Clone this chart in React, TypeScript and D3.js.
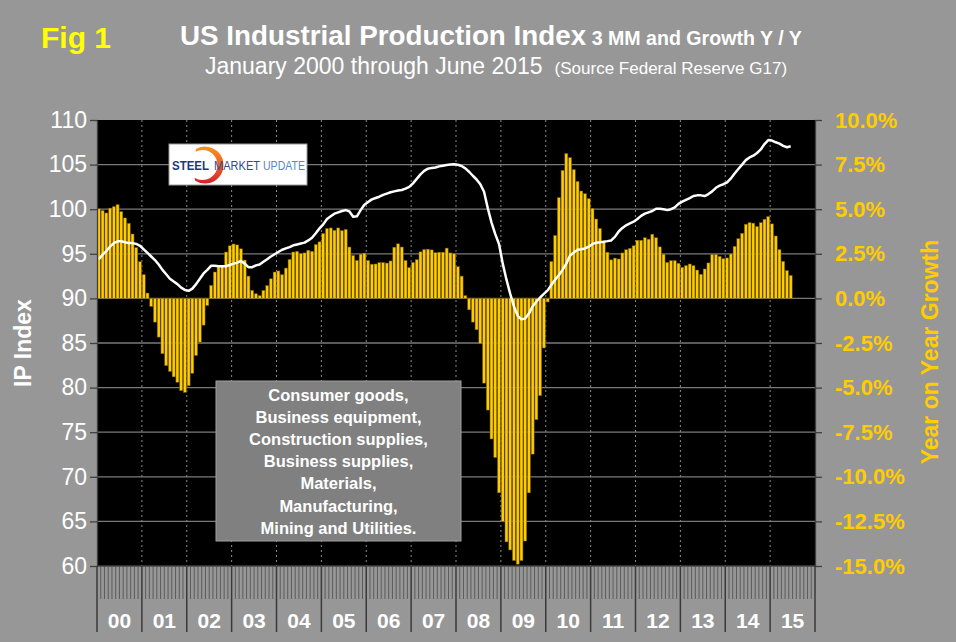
"use client"

import * as React from "react"
import * as d3 from "d3"

const yearLabels = ["00", "01", "02", "03", "04", "05", "06", "07", "08", "09", "10", "11", "12", "13", "14", "15"]

const ipTicks = [60, 65, 70, 75, 80, 85, 90, 95, 100, 105, 110]
const growthTicks = [-15, -12.5, -10, -7.5, -5, -2.5, 0, 2.5, 5, 7.5, 10]

const legendLines = [
  "Consumer goods,",
  "Business equipment,",
  "Construction supplies,",
  "Business supplies,",
  "Materials,",
  "Manufacturing,",
  "Mining and Utilities.",
]

// growth Y/Y (3 MM), percent, Jan 2000 .. Jun 2015, one row per year
const yoyGrowth = [
  5.02, 4.93, 4.79, 5.06, 5.15, 5.26, 4.87, 4.51, 4.21, 3.61, 2.85, 2.06,
  1.33, 0.3, -0.45, -1.33, -2.17, -3.1, -3.77, -4.1, -4.4, -4.7, -5.17, -5.27,
  -4.9, -4.2, -3.2, -2.45, -1.5, -0.4, 0.73, 1.48, 1.76, 1.8, 2.6, 2.95,
  3.05, 3.0, 2.78, 2.15, 1.25, 0.45, 0.26, 0.16, 0.45, 0.72, 1.1, 1.48,
  1.54, 1.33, 1.7, 2.19, 2.6, 2.64, 2.51, 2.55, 2.7, 2.64, 3.02, 3.17,
  3.64, 3.92, 3.95, 3.82, 3.95, 3.8, 3.87, 2.88, 2.41, 2.13, 2.48, 2.54,
  2.13, 1.92, 1.93, 2.01, 2.01, 1.98, 2.1, 2.87, 3.06, 2.88, 2.13, 1.73,
  2.02, 2.17, 2.61, 2.74, 2.76, 2.72, 2.56, 2.59, 2.59, 2.82, 2.55, 2.5,
  1.78, 1.25, 0.16, -0.64, -1.33, -1.76, -2.53, -4.75, -6.26, -7.88, -8.92, -10.9,
  -12.5, -13.65, -14.1, -14.7, -14.9, -14.7, -13.6, -10.9, -8.73, -6.8, -5.45, -2.78,
  -0.2, 2.07, 3.53, 5.65, 7.18, 8.12, 7.89, 7.22, 6.56, 6.02, 5.87, 5.59,
  5.05, 4.45, 3.92, 3.14, 2.59, 2.16, 2.26, 2.21, 2.55, 2.73, 2.81, 2.95,
  3.26, 3.26, 3.4, 3.32, 3.6, 3.4, 2.89, 2.48, 2.02, 2.12, 2.12, 1.97,
  1.74, 1.84, 1.93, 1.84, 1.59, 1.35, 1.65, 1.99, 2.47, 2.47, 2.36, 2.23,
  2.27, 2.49, 2.92, 3.35, 3.65, 4.16, 4.25, 4.22, 4.03, 4.25, 4.44, 4.59,
  4.18, 3.5, 2.74, 2.08, 1.56, 1.29,
]

// IP index (3 MM), same months
const ipIndex = [
  94.4, 94.9, 95.3, 95.8, 96.2, 96.4, 96.4, 96.3, 96.2, 96.2, 96.1, 95.9,
  95.5, 95.1, 94.7, 94.3, 93.8, 93.2, 92.7, 92.2, 91.9, 91.6, 91.2, 90.95,
  90.85, 91.1, 91.6, 92.2, 92.8, 93.2, 93.65, 93.65, 93.6, 93.6, 93.6, 93.75,
  93.9, 94.0, 94.2, 93.9, 93.5, 93.5, 93.7, 93.8, 94.1, 94.4, 94.7, 94.95,
  95.2, 95.45, 95.6, 95.75, 95.95, 96.05, 96.15, 96.25, 96.5, 96.8, 97.3, 97.85,
  98.3, 98.9, 99.2, 99.5, 99.65, 99.8, 99.9, 99.75, 99.15, 99.2, 99.9, 100.5,
  100.8, 101.1, 101.25, 101.4, 101.6, 101.75, 101.9, 102.0, 102.1, 102.15, 102.3, 102.5,
  102.9, 103.4, 103.9, 104.3, 104.55, 104.62, 104.68, 104.8, 104.88, 104.95, 105.0, 105.05,
  104.98, 104.85, 104.58, 104.2, 103.75, 103.33, 102.79, 101.95, 100.1, 98.5, 97.2, 96.1,
  93.9, 92.1, 90.5, 89.1, 88.05, 87.65, 87.75, 88.3, 89.1, 89.65, 90.1, 90.5,
  90.9, 91.5, 92.1, 92.6, 93.2, 93.9, 94.8, 95.15, 95.45, 95.5, 95.6, 95.8,
  96.1, 96.25, 96.3, 96.36, 96.42, 96.5, 96.9, 97.5, 97.9, 98.2, 98.4, 98.6,
  98.9, 99.25, 99.5, 99.65, 99.8, 100.05, 100.05, 100.0, 99.9, 100.0, 100.2, 100.6,
  100.85, 101.05, 101.25, 101.48, 101.55, 101.55, 101.47, 101.7, 102.0, 102.4, 102.65, 102.8,
  103.0, 103.45, 104.0, 104.5, 105.0, 105.5, 105.8, 106.0, 106.3, 106.7, 107.3, 107.75,
  107.7, 107.5, 107.35, 107.1, 106.95, 107.05,
]

const FONT = '"Liberation Sans", Arial, Helvetica, sans-serif'
const GOLD = "#FFCC00"

function render(svgEl: SVGSVGElement) {
  const width = 956
  const height = 642
  const plot = { left: 97, right: 815, top: 120, bottom: 566 }

  const svg = d3.select(svgEl).attr("width", width).attr("height", height)
  svg.selectAll("*").remove()

  const nMonths = yearLabels.length * 12
  const months = d3.range(nMonths)
  const xb = d3
    .scaleBand<number>()
    .domain(months)
    .range([plot.left, plot.right])
    .paddingInner(0.2)
    .paddingOuter(0.1)
  const xm = d3.scaleLinear().domain([0, nMonths]).range([plot.left, plot.right])
  const yIP = d3.scaleLinear().domain([60, 110]).range([plot.bottom, plot.top])
  const yG = d3.scaleLinear().domain([-15, 10]).range([plot.bottom, plot.top])

  // background + plot area
  svg.append("rect").attr("width", width).attr("height", height).attr("fill", "#979797")
  svg
    .append("rect")
    .attr("x", plot.left)
    .attr("y", plot.top)
    .attr("width", plot.right - plot.left)
    .attr("height", plot.bottom - plot.top)
    .attr("fill", "#000")

  // horizontal grid
  svg
    .append("g")
    .selectAll("line")
    .data(ipTicks.filter((t) => t > 60 && t < 110))
    .join("line")
    .attr("x1", plot.left)
    .attr("x2", plot.right)
    .attr("y1", (d) => yIP(d))
    .attr("y2", (d) => yIP(d))
    .attr("stroke", "#7a7a7a")
    .attr("stroke-width", 1.3)

  // year dashed lines
  svg
    .append("g")
    .selectAll("line")
    .data(d3.range(1, yearLabels.length))
    .join("line")
    .attr("x1", (d) => xm(d * 12))
    .attr("x2", (d) => xm(d * 12))
    .attr("y1", plot.top)
    .attr("y2", plot.bottom)
    .attr("stroke", "#8a8a8a")
    .attr("stroke-width", 1)
    .attr("stroke-dasharray", "2,3")

  // growth bars
  svg
    .append("g")
    .selectAll("rect")
    .data(yoyGrowth)
    .join("rect")
    .attr("x", (d, i) => xb(i) as number)
    .attr("width", xb.bandwidth())
    .attr("y", (d) => yG(Math.max(0, d)))
    .attr("height", (d) => Math.max(0.8, Math.abs(yG(d) - yG(0))))
    .attr("fill", GOLD)
    .attr("stroke", "#6b5400")
    .attr("stroke-width", 0.5)

  // IP index line
  const line = d3
    .line<number>()
    .x((d, i) => (xb(i) as number) + xb.bandwidth() / 2)
    .y((d) => yIP(d))
  svg
    .append("path")
    .datum(ipIndex)
    .attr("d", line)
    .attr("fill", "none")
    .attr("stroke", "#fff")
    .attr("stroke-width", 2.5)
    .attr("stroke-linejoin", "round")

  // left axis
  const gl = svg
    .append("g")
    .attr("transform", `translate(${plot.left},0)`)
    .call(d3.axisLeft(yIP).tickValues(ipTicks).tickSize(7).tickPadding(3).tickSizeOuter(0).tickFormat(d3.format("d")))
  gl.select(".domain").attr("stroke", "#404040").attr("stroke-width", 1.3)
  gl.selectAll(".tick line").attr("stroke", "#404040").attr("stroke-width", 1.3)
  gl.selectAll(".tick text")
    .attr("fill", "#fff")
    .attr("font-family", FONT)
    .attr("font-size", 23)

  // right axis
  const gr = svg
    .append("g")
    .attr("transform", `translate(${plot.right},0)`)
    .call(
      d3
        .axisRight(yG)
        .tickValues(growthTicks)
        .tickSize(7)
        .tickPadding(13)
        .tickSizeOuter(0)
        .tickFormat((d) => (d as number).toFixed(1) + "%")
    )
  gr.select(".domain").attr("stroke", "#404040").attr("stroke-width", 1.3)
  gr.selectAll(".tick line").attr("stroke", "#404040").attr("stroke-width", 1.3)
  gr.selectAll(".tick text")
    .attr("fill", GOLD)
    .attr("font-family", FONT)
    .attr("font-weight", "bold")
    .attr("font-size", 22)

  // bottom category axis: month ticks + year dividers
  svg
    .append("line")
    .attr("x1", plot.left)
    .attr("x2", plot.right)
    .attr("y1", plot.bottom)
    .attr("y2", plot.bottom)
    .attr("stroke", "#404040")
    .attr("stroke-width", 1.3)
  svg
    .append("g")
    .selectAll("line")
    .data(d3.range(nMonths + 1))
    .join("line")
    .attr("x1", (d) => xm(d))
    .attr("x2", (d) => xm(d))
    .attr("y1", plot.bottom)
    .attr("y2", (d) => (d % 12 === 0 ? 632 : 599))
    .attr("stroke", (d) => (d % 12 === 0 ? "#3a3a3a" : "#555"))
    .attr("stroke-width", (d) => (d % 12 === 0 ? 1.5 : 0.9))
  svg
    .append("g")
    .selectAll("text")
    .data(yearLabels)
    .join("text")
    .attr("x", (d, i) => xm(i * 12 + 6))
    .attr("y", 628)
    .attr("text-anchor", "middle")
    .attr("fill", "#fff")
    .attr("font-family", FONT)
    .attr("font-weight", "bold")
    .attr("font-size", 21)
    .text((d) => d)

  // axis titles
  svg
    .append("text")
    .attr("transform", "translate(31,343) rotate(-90)")
    .attr("text-anchor", "middle")
    .attr("fill", "#fff")
    .attr("font-family", FONT)
    .attr("font-weight", "bold")
    .attr("font-size", 23)
    .text("IP Index")
  svg
    .append("text")
    .attr("transform", "translate(938,352) rotate(-90)")
    .attr("text-anchor", "middle")
    .attr("fill", GOLD)
    .attr("font-family", FONT)
    .attr("font-weight", "bold")
    .attr("font-size", 23)
    .text("Year on Year Growth")

  // titles
  svg
    .append("text")
    .attr("x", 41)
    .attr("y", 48)
    .attr("fill", "#FFFF00")
    .attr("font-family", FONT)
    .attr("font-weight", "bold")
    .attr("font-size", 30)
    .text("Fig 1")
  const t1 = svg
    .append("text")
    .attr("x", 180)
    .attr("y", 45)
    .attr("fill", "#fff")
    .attr("font-family", FONT)
    .attr("font-weight", "bold")
  t1.append("tspan").attr("font-size", 27.8).text("US Industrial Production Index")
  t1.append("tspan").attr("font-size", 19.6).text(" 3 MM and Growth Y / Y")
  const t2 = svg
    .append("text")
    .attr("x", 205)
    .attr("y", 74)
    .attr("fill", "#fff")
    .attr("font-family", FONT)
  t2.append("tspan").attr("font-size", 23).text("January 2000 through June 2015")
  t2.append("tspan").attr("font-size", 17).attr("dx", 12).text("(Source Federal Reserve G17)")

  // legend box
  const lg = svg.append("g")
  lg.append("rect")
    .attr("x", 216)
    .attr("y", 381)
    .attr("width", 245)
    .attr("height", 160)
    .attr("fill", "#808080")
    .attr("stroke", "#a0a0a0")
    .attr("stroke-width", 1)
  lg.selectAll("text")
    .data(legendLines)
    .join("text")
    .attr("x", 338.5)
    .attr("y", (d, i) => 401 + i * 22.1)
    .attr("text-anchor", "middle")
    .attr("fill", "#fff")
    .attr("font-family", FONT)
    .attr("font-weight", "bold")
    .attr("font-size", 16.5)
    .text((d) => d)

  // Steel Market Update logo
  const logo = svg.append("g")
  const defs = svg.append("defs")
  const grad = defs
    .append("linearGradient")
    .attr("id", "smuArc")
    .attr("x1", 0)
    .attr("y1", 0)
    .attr("x2", 0)
    .attr("y2", 1)
  grad.append("stop").attr("offset", "0%").attr("stop-color", "#F7941D")
  grad.append("stop").attr("offset", "55%").attr("stop-color", "#EE5A24")
  grad.append("stop").attr("offset", "100%").attr("stop-color", "#D2232A")
  logo
    .append("rect")
    .attr("x", 169)
    .attr("y", 144)
    .attr("width", 138)
    .attr("height", 41)
    .attr("fill", "#fff")
    .attr("stroke", "#9a9a9a")
    .attr("stroke-width", 1)
  const cx = 205
  const cy = 165
  const ro = 18.5
  const ri = 15
  const a1 = (-118 * Math.PI) / 180
  const a2 = (122 * Math.PI) / 180
  const p = d3.path()
  p.moveTo(cx + ro * Math.cos(a1), cy + ro * Math.sin(a1))
  p.arc(cx, cy, ro, a1, a2, false)
  p.arc(cx - 2.5, cy, ri, a2, a1, true)
  p.closePath()
  logo.append("path").attr("d", p.toString()).attr("fill", "url(#smuArc)")
  const words = [
    { t: "STEEL", x: 172, w: 37, c: "#1B3A78", fw: "bold" },
    { t: "MARKET", x: 214, w: 46, c: "#2A4D8F", fw: "normal" },
    { t: "UPDATE", x: 263, w: 42, c: "#5B84C6", fw: "normal" },
  ]
  logo
    .selectAll("text")
    .data(words)
    .join("text")
    .attr("x", (d) => d.x)
    .attr("y", 169.5)
    .attr("textLength", (d) => d.w)
    .attr("lengthAdjust", "spacingAndGlyphs")
    .attr("fill", (d) => d.c)
    .attr("font-family", FONT)
    .attr("font-weight", (d) => d.fw)
    .attr("font-size", 12.5)
    .text((d) => d.t)
}

export default function App(): React.JSX.Element {
  const svgRef = React.useRef<SVGSVGElement>(null)

  React.useEffect(() => {
    if (!svgRef.current) return
    render(svgRef.current)
  }, [])

  return (
    <div style={{ position: "absolute", left: 0, top: 0, width: 956, height: 642 }}>
      <svg ref={svgRef} style={{ display: "block" }} />
    </div>
  )
}
